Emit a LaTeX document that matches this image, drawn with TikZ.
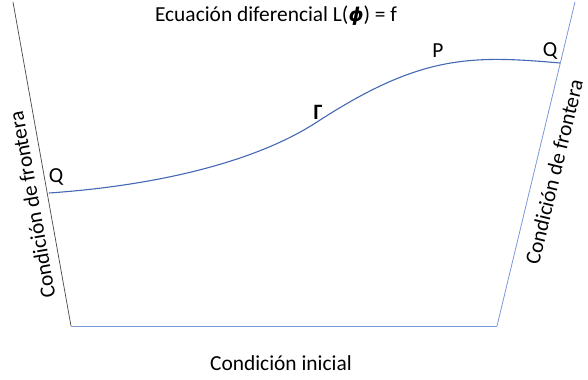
\documentclass[tikz,border=0pt]{standalone}
\usepackage{fontspec}
\setmainfont{Carlito}
\newfontfamily\phifont{DejaVu Sans}
\definecolor{curveblue}{RGB}{68,104,180}
\definecolor{lightblue}{RGB}{122,152,218}
\definecolor{leftgray}{RGB}{70,70,70}
\begin{document}
\begin{tikzpicture}[x=1bp,y=-1bp,
  lbl/.style={font=\fontsize{21.5}{24}\selectfont, inner sep=0pt},
  edgegray/.style={draw=leftgray, line width=0.7bp},
  edgeblue/.style={draw=lightblue, line width=0.8bp},
  curvestyle/.style={draw=curveblue, line width=1.1bp}]
\useasboundingbox (0,0) rectangle (588,379);
% corners
\coordinate (tl) at (13,2);
\coordinate (bl) at (71,326);
\coordinate (br) at (497,326);
\coordinate (tr) at (575,2);
% curve points
\coordinate (qL) at (49,193);
\coordinate (mid) at (317,122);
\coordinate (qR) at (560,63);
% boundaries
\draw[edgegray] (tl) -- (bl);
\draw[edgeblue] (bl) -- (br);
\draw[edgeblue] (br) -- (tr);
% curve Gamma
\draw[curvestyle] (qL) .. controls (150,186) and (252,164.25) .. (mid)
  .. controls (420,55) and (470,55) .. (qR);
% labels
\node[lbl] (title) at (276,16) {Ecuación diferencial L({\phifont\bfseries\itshape\fontsize{19}{22}\selectfont ϕ}) = f};
\node[lbl] (ini) at (281,363) {Condición inicial};
\node[lbl, rotate=100] (fl) at (32,205) {Condición de frontera};
\node[lbl, rotate=76.4] (fr) at (554,172) {Condición de frontera};
\node[lbl] (ql) at (56,177) {Q};
\node[lbl] (qr) at (550,51) {Q};
\node[lbl] (p) at (438,51) {P};
\node[lbl, font=\fontsize{22}{24}\selectfont\bfseries] (g) at (318,112) {Γ};
\end{tikzpicture}
\end{document}
